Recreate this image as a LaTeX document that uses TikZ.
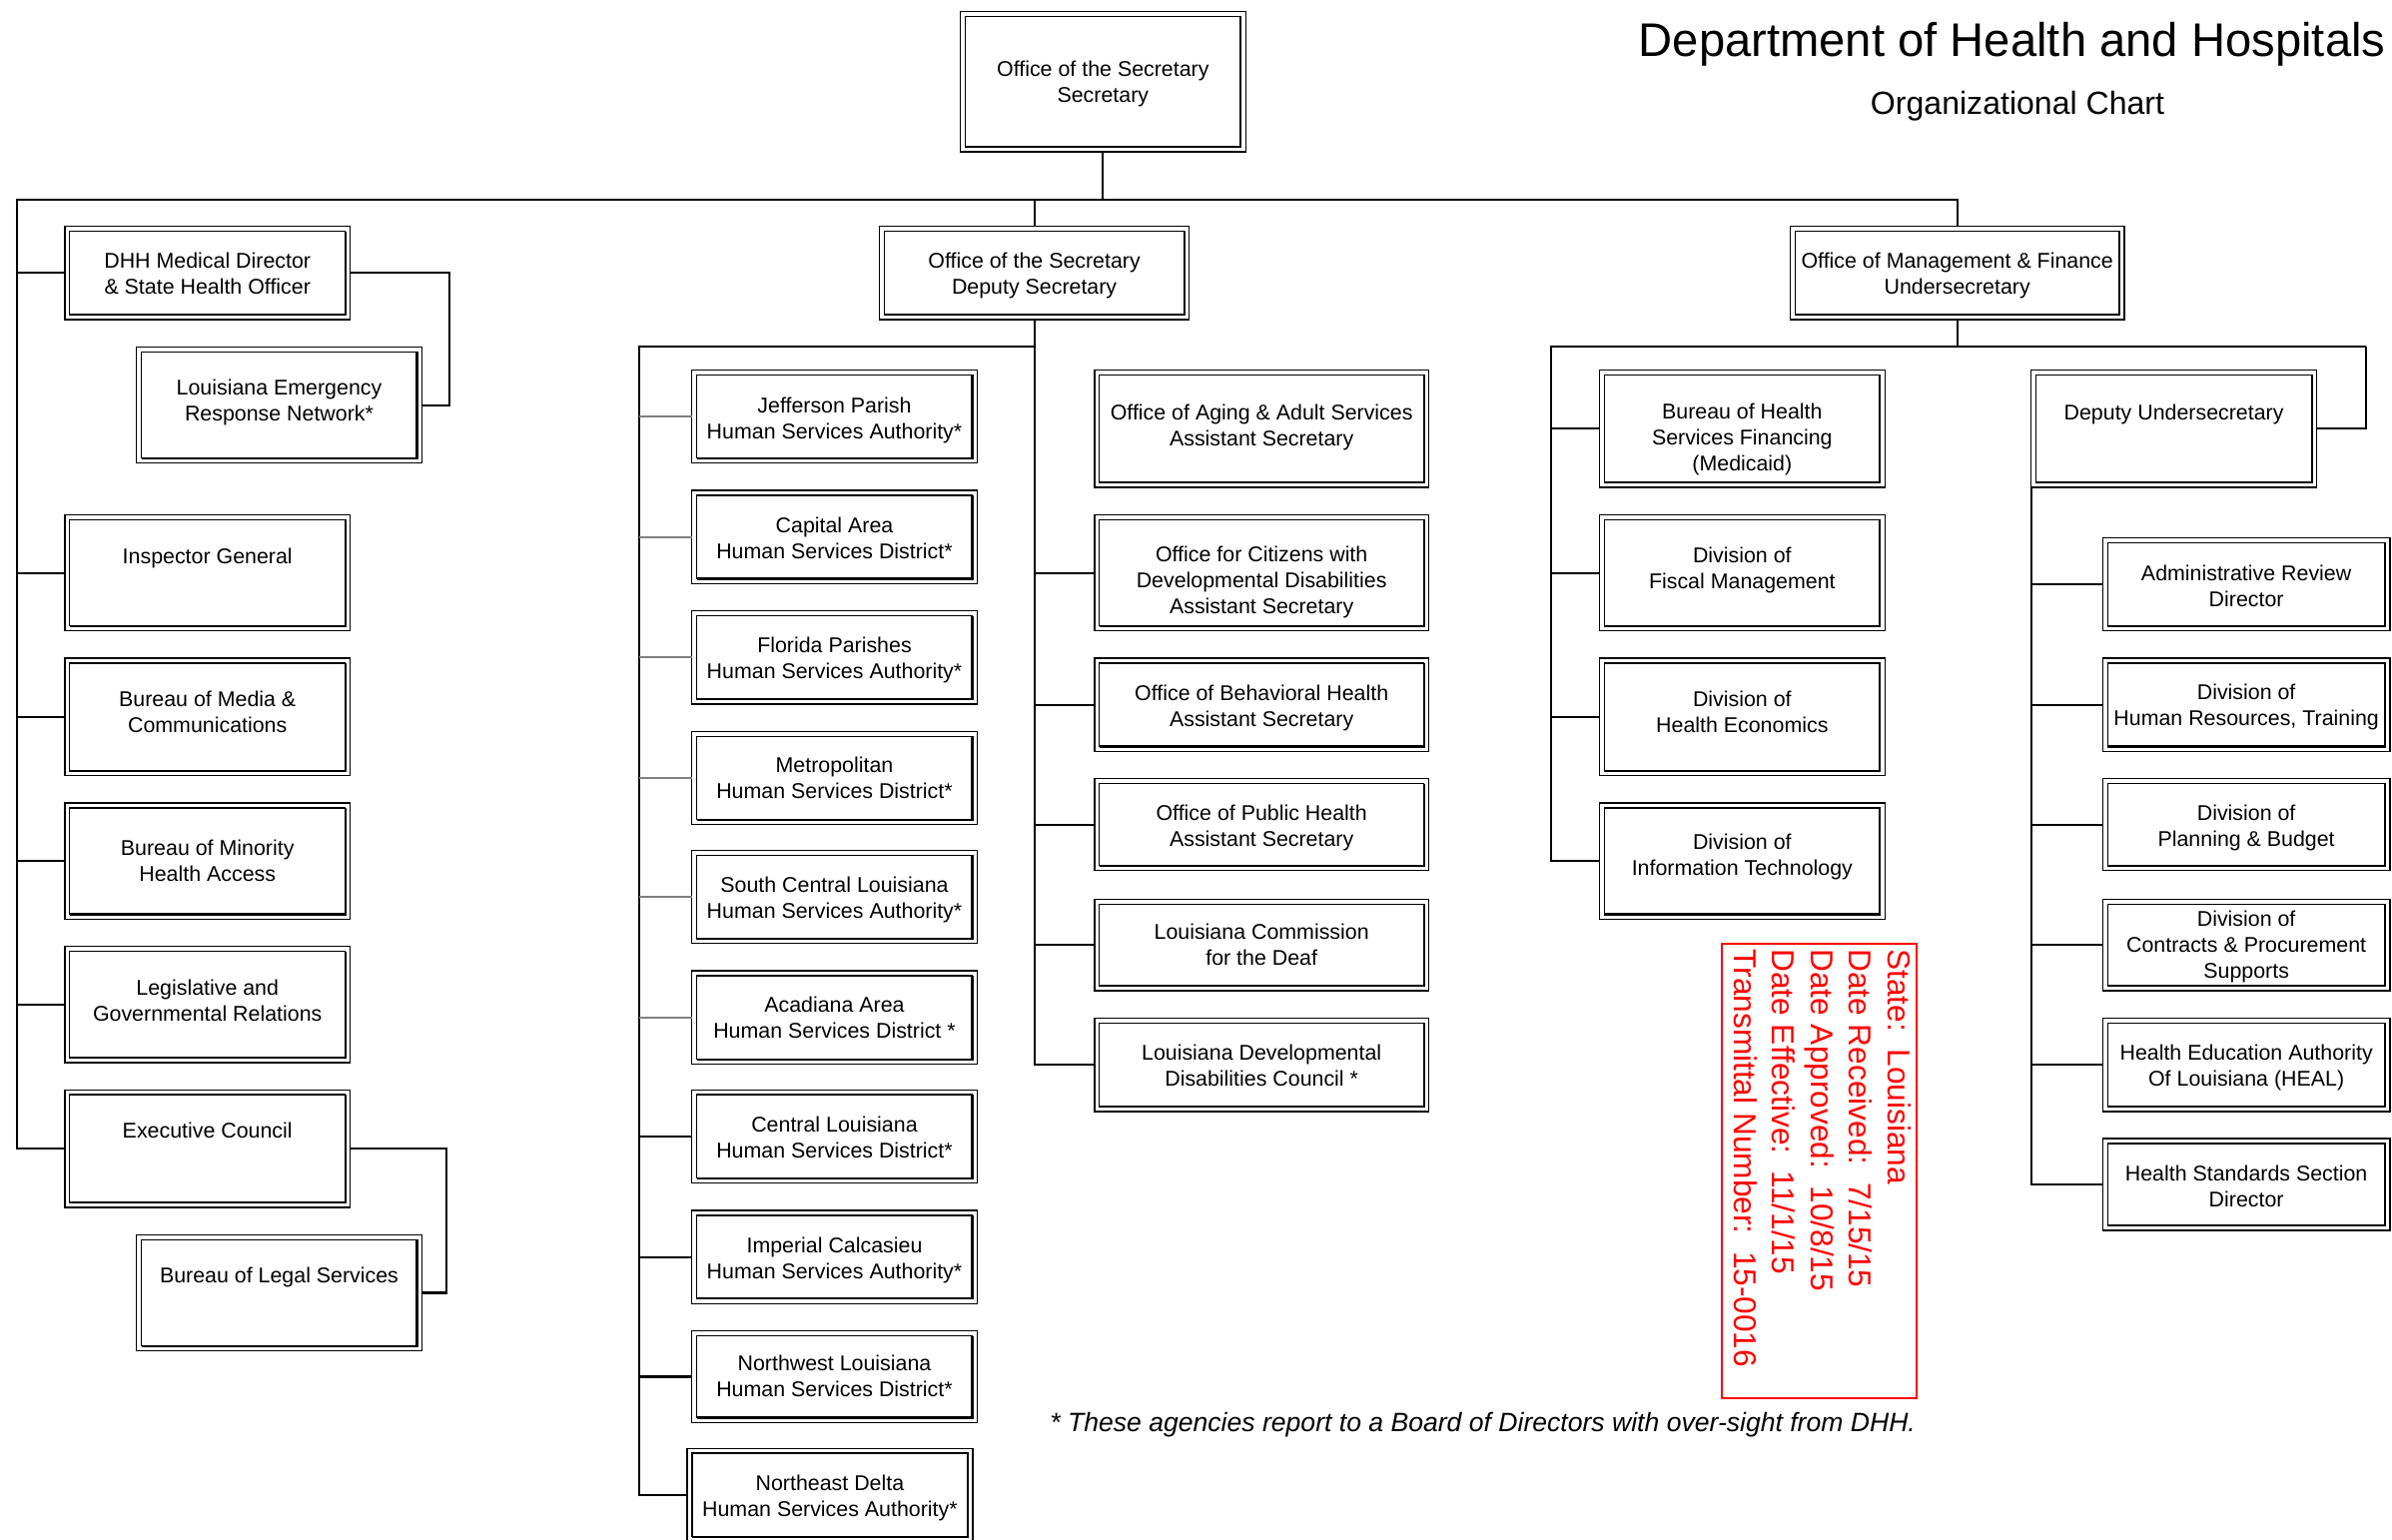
\documentclass[tikz,border=0pt]{standalone}
\usepackage{fontspec}
\setmainfont{Liberation Sans}
\newcommand\bs{\rule[-3.3pt]{0pt}{16.6pt}}
% #1 name, #2 x1, #3 y1, #4 x2, #5 y2, #6 text centre y, #7 text
\newcommand\ob[7]{%
  \node[obox, minimum width={#4-#2-0.9}, minimum height={#5-#3-0.9}] (#1) at ({(#2+#4)/2},{(#3+#5)/2}) {};
  \draw[ibox] ([shift={(3.2,3.2)}]#1.north west) rectangle ([shift={(-3.2,-3.2)}]#1.south east);
  \draw[ishadow] ([shift={(-3.2,3.2)}]#1.north east) -- ([shift={(-3.2,-3.2)}]#1.south east) -- ([shift={(3.2,-3.2)}]#1.south west);
  \node[btxt] (#1-t) at ({(#2+#4)/2},#6) {\bs #7\bs};
}
\begin{document}
\begin{tikzpicture}[x=1pt,y=-1pt,
  obox/.style={draw, line width=0.9pt, fill=white, inner sep=0pt, outer sep=0pt},
  ibox/.style={line width=0.9pt},
  ishadow/.style={line width=1.4pt},
  btxt/.style={font=\fontsize{14}{17}\selectfont, align=center, inner sep=0pt},
  conn/.style={line width=1.35pt},
  gconn/.style={line width=1.35pt, draw=gray},
  stxt/.style={text=red, font=\fontsize{20.7}{24}\selectfont, inner sep=0pt, anchor=base west, rotate=-90}]
\fill[white] (0,0) rectangle (1568,1009.5);
\useasboundingbox (0,0) rectangle (1568,1009.5);

% titles
\node[font=\fontsize{30.9}{36}\selectfont, anchor=base west, inner sep=0pt] (title) at (1074,37) {Department of Health and Hospitals};
\node[font=\fontsize{21}{25}\selectfont, anchor=base, inner sep=0pt] (subtitle) at (1322.5,75) {Organizational Chart};

% top
\ob{sec}{629}{7}{817}{100}{53.5}{Office of the Secretary\\Secretary}

% left column
\ob{dhh}{42}{148}{230}{210}{179.5}{DHH Medical Director\\\& State Health Officer}
\ob{lern}{89}{227}{277}{304}{262.5}{Louisiana Emergency\\Response Network*}
\ob{ig}{42}{337}{230}{414}{364.5}{Inspector General}
\ob{media}{42}{431}{230}{509}{467}{Bureau of Media \&\\Communications}
\ob{minor}{42}{526}{230}{603}{564.5}{Bureau of Minority\\Health Access}
\ob{leg}{42}{620}{230}{697}{656}{Legislative and\\Governmental Relations}
\ob{exec}{42}{714}{230}{792}{741}{Executive Council}
\ob{legal}{89}{809}{277}{886}{836}{Bureau of Legal Services}

% deputy secretary
\ob{dds}{576}{148}{780}{210}{179.5}{Office of the Secretary\\Deputy Secretary}
\ob{jp}{453}{242}{641}{304}{274.5}{Jefferson Parish\\Human Services Authority*}
\ob{cap}{453}{321}{641}{383}{352.5}{Capital Area\\Human Services District*}
\ob{fl}{453}{400}{641}{462}{431.5}{Florida Parishes\\Human Services Authority*}
\ob{metro}{453}{479}{641}{541}{510}{Metropolitan\\Human Services District*}
\ob{sc}{453}{557}{641}{619}{588.5}{South Central Louisiana\\Human Services Authority*}
\ob{aca}{453}{636}{641}{698}{667}{Acadiana Area\\Human Services District *}
\ob{cl}{453}{714}{641}{776}{745.5}{Central Louisiana\\Human Services District*}
\ob{ic}{453}{793}{641}{855}{824.5}{Imperial Calcasieu\\Human Services Authority*}
\ob{nw}{453}{872}{641}{933}{902}{Northwest Louisiana\\Human Services District*}
\ob{ned}{450}{949}{638}{1011}{980.5}{Northeast Delta\\Human Services Authority*}

\ob{oaas}{717}{242}{937}{320}{278.5}{Office of Aging \& Adult Services\\Assistant Secretary}
\ob{opdd}{717}{337}{937}{414}{380.5}{Office for Citizens with\\Developmental Disabilities\\Assistant Secretary}
\ob{obh}{717}{431}{937}{493}{462.5}{Office of Behavioral Health\\Assistant Secretary}
\ob{oph}{717}{510}{937}{571}{541.5}{Office of Public Health\\Assistant Secretary}
\ob{deaf}{717}{589}{937}{650}{619.5}{Louisiana Commission\\for the Deaf}
\ob{dev}{717}{667}{937}{729}{698.5}{Louisiana Developmental\\Disabilities Council *}

% management & finance
\ob{omf}{1173}{148}{1393}{210}{179.5}{Office of Management \& Finance\\Undersecretary}
\ob{bhsf}{1048}{242}{1236}{320}{286.5}{Bureau of Health\\Services Financing\\(Medicaid)}
\ob{fm}{1048}{337}{1236}{414}{372.5}{Division of\\Fiscal Management}
\ob{he}{1048}{431}{1236}{509}{466.5}{Division of\\Health Economics}
\ob{it}{1048}{526}{1236}{603}{560.5}{Division of\\Information Technology}
\ob{du}{1331}{242}{1519}{320}{270}{Deputy Undersecretary}
\ob{arv}{1378}{352}{1567}{414}{384.5}{Administrative Review\\Director}
\ob{hr}{1378}{431}{1567}{493}{462}{Division of\\Human Resources, Training}
\ob{pb}{1378}{510}{1567}{571}{541.5}{Division of\\Planning \& Budget}
\ob{cp}{1378}{589}{1567}{650}{619}{Division of\\Contracts \& Procurement\\Supports}
\ob{heal}{1378}{667}{1567}{729}{698.5}{Health Education Authority\\Of Louisiana (HEAL)}
\ob{hss}{1378}{746}{1567}{807}{777.5}{Health Standards Section\\Director}

% junctions
\coordinate (busL) at (11,131);
\coordinate (hsL) at (419,227);
\coordinate (mL) at (1017,227);
\coordinate (mR) at (1551,227);

% connectors
\draw[conn] (sec.south) |- (busL) |- (exec.west);
\draw[conn] (sec.south |- busL) -| (omf.north);
\draw[conn] (dds.north) -- (dds.north |- busL);
\foreach \n in {dhh,ig,media,minor,leg} \draw[conn] (\n.west) -- (\n.west -| busL);
\draw[conn] (dhh.east) -- ++(65,0) |- (lern.east);
\draw[conn] (exec.east) -- ++(63,0) |- (legal.east);
\draw[conn] (dds.south) |- (dev.west);
\draw[conn] (dds.south |- hsL) -- (hsL) |- (ned.west);
\foreach \n in {jp,cap,fl,metro,sc,aca} \draw[gconn] (\n.west) -- (\n.west -| hsL);
\foreach \n in {cl,ic,nw} \draw[conn] (\n.west) -- (\n.west -| hsL);
\foreach \n in {opdd,obh,oph,deaf} \draw[conn] (\n.west) -- (\n.west -| dds.south);
\draw[conn] (omf.south) -- (omf.south |- mL);
\draw[conn] (mR) -- (mL) |- (it.west);
\draw[conn] (mR) |- (du.east);
\foreach \n in {bhsf,fm,he} \draw[conn] (\n.west) -- (\n.west -| mL);
\draw[conn] (du.south west) |- (hss.west);
\foreach \n in {arv,hr,pb,cp,heal} \draw[conn] (\n.west) -- (\n.west -| du.south west);

% stamp
\node[draw=red, line width=1.3pt, minimum width=127.7, minimum height=297.7, inner sep=0pt, outer sep=0pt] (stamp) at (1192.5,767.5) {};
\node[stxt] (s1) at (1237.4,622) {State:\ \ Louisiana};
\node[stxt] (s2) at (1212.2,622) {Date Received:\ \ 7/15/15};
\node[stxt] (s3) at (1187,622) {Date Approved:\ \ 10/8/15};
\node[stxt] (s4) at (1161.8,622) {Date Effective:\ \ 11/1/15};
\node[stxt] (s5) at (1136.6,622) {Transmittal Number:\ \ 15-0016};

% footnote
\node[font=\fontsize{17.4}{20}\selectfont\itshape, anchor=base, inner sep=0pt] (note) at (972,938.5) {* These agencies report to a Board of Directors with over-sight from DHH.};
\end{tikzpicture}
\end{document}
